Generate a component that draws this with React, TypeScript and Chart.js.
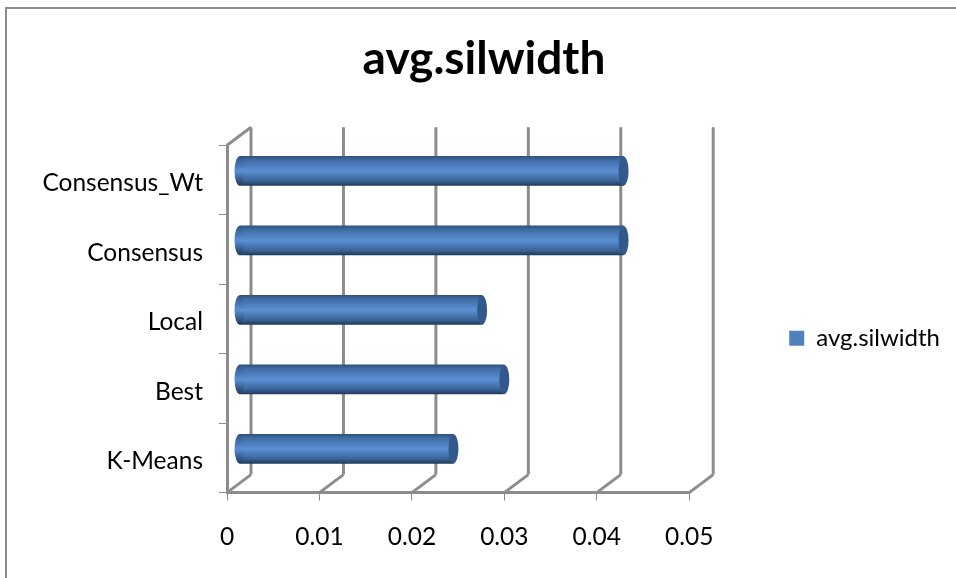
import React, { useEffect, useRef } from "react";
import { Chart, registerables } from "chart.js";

Chart.register(...registerables);

const categories = ["Consensus_Wt", "Consensus", "Local", "Best", "K-Means"];
const silwidth = [0.0416, 0.0416, 0.0263, 0.0287, 0.0232];
const seriesName = "avg.silwidth";
const xTicks = [0, 0.01, 0.02, 0.03, 0.04, 0.05];

const FONT = "Lato, 'Open Sans', sans-serif";
const GREY = "#8c8c8c";
// Depth of the 3D box: the back wall sits this far from the front plane.
const DEPTH_X = 24;
const DEPTH_Y = -18;
const CAP_RX = 5;
const BAR_THICKNESS = 29;
const PAD_LEFT = 18;

const line = (c: CanvasRenderingContext2D, x1: number, y1: number, x2: number, y2: number) => {
  c.beginPath();
  c.moveTo(x1, y1);
  c.lineTo(x2, y2);
  c.stroke();
};

// Chart frame, floor and back wall of the 3D box, all taken from the scales.
const boxPlugin = {
  id: "box3d",
  beforeDatasetsDraw(chart: any) {
    const c = chart.ctx as CanvasRenderingContext2D;
    const { x } = chart.scales;
    const { top, bottom, left } = chart.chartArea;
    c.save();
    c.strokeStyle = GREY;
    c.lineWidth = 2;
    c.beginPath();
    c.moveTo(6, chart.height);
    c.lineTo(6, 8);
    c.lineTo(chart.width, 8);
    c.stroke();
    c.lineWidth = 3;
    xTicks.forEach((v) => {
      const px = x.getPixelForValue(v);
      line(c, px, bottom, px + DEPTH_X, bottom + DEPTH_Y);
      line(c, px + DEPTH_X, bottom + DEPTH_Y, px + DEPTH_X, top + DEPTH_Y);
    });
    line(c, left, top, left + DEPTH_X, top + DEPTH_Y);
    c.restore();
  },
};

// Bars are shifted to the middle of the box depth; the ellipses turn them into cylinders.
const cylinderPlugin = {
  id: "cylinders",
  beforeDatasetDraw(chart: any) {
    chart.ctx.save();
    chart.ctx.translate(DEPTH_X / 2, DEPTH_Y / 2);
  },
  afterDatasetDraw(chart: any, args: any) {
    const c = chart.ctx as CanvasRenderingContext2D;
    args.meta.data.forEach((bar: any) => {
      const ry = BAR_THICKNESS / 2;
      const g = c.createLinearGradient(0, bar.y - ry, 0, bar.y + ry);
      g.addColorStop(0, "#2f527f");
      g.addColorStop(0.5, "#5b8fd4");
      g.addColorStop(1, "#203a5c");
      c.fillStyle = g;
      c.beginPath();
      c.ellipse(bar.base, bar.y, CAP_RX, ry, 0, 0, Math.PI * 2);
      c.fill();
      c.fillStyle = "#33598c";
      c.beginPath();
      c.ellipse(bar.x, bar.y, CAP_RX, ry, 0, 0, Math.PI * 2);
      c.fill();
    });
    c.restore();
  },
};

export default function App() {
  const ref = useRef<HTMLCanvasElement>(null);

  useEffect(() => {
    document.body.style.margin = "0";
    const chart = new Chart(ref.current!, {
      type: "bar",
      data: {
        labels: categories,
        datasets: [
          {
            label: seriesName,
            data: silwidth,
            barThickness: BAR_THICKNESS,
            borderWidth: 0,
            backgroundColor: (ctx: any) => {
              const { chart: ch, dataIndex } = ctx;
              if (dataIndex === undefined || !ch.chartArea) return "#4f81bd";
              const cy = ch.scales.y.getPixelForValue(dataIndex);
              const g = ch.ctx.createLinearGradient(0, cy - BAR_THICKNESS / 2, 0, cy + BAR_THICKNESS / 2);
              g.addColorStop(0, "#2f527f");
              g.addColorStop(0.12, "#3f6ba3");
              g.addColorStop(0.5, "#5b8fd4");
              g.addColorStop(0.85, "#3a6396");
              g.addColorStop(1, "#203a5c");
              return g;
            },
          },
        ],
      },
      plugins: [boxPlugin, cylinderPlugin],
      options: {
        indexAxis: "y",
        animation: false,
        responsive: false,
        layout: { padding: { left: PAD_LEFT, right: 6, top: 0, bottom: 4 } },
        plugins: {
          title: {
            display: true,
            text: seriesName,
            color: "#000",
            font: { family: FONT, size: 46, weight: "bold" },
            padding: { top: 32, bottom: 58 },
          },
          legend: {
            position: "right",
            maxWidth: 400,
            title: { display: true, text: " ", padding: { top: 88, bottom: 0 } },
            labels: {
              color: "#000",
              font: { family: FONT, size: 24 },
              boxWidth: 15,
              boxHeight: 15,
              padding: 100,
              generateLabels: () => [
                {
                  text: seriesName,
                  fillStyle: "#4f81bd",
                  strokeStyle: "#4f81bd",
                  lineWidth: 0,
                  fontColor: "#000",
                },
              ],
            },
          },
          tooltip: { enabled: false },
        },
        scales: {
          x: {
            type: "linear",
            min: 0,
            max: 0.05,
            afterBuildTicks: (s: any) => {
              s.ticks = xTicks.map((value) => ({ value }));
            },
            ticks: {
              color: "#000",
              font: { family: FONT, size: 24.5 },
              padding: 22,
              maxRotation: 0,
              callback: (v: any) => String(v),
            },
            grid: { drawOnChartArea: false, color: GREY, tickLength: 8, lineWidth: 1 },
            border: { color: GREY, width: 3 },
          },
          y: {
            type: "category",
            afterFit: (s: any) => {
              s.width = 227 - PAD_LEFT;
            },
            ticks: { color: "#000", font: { family: FONT, size: 24.5 }, padding: 16, labelOffset: 3.5 },
            grid: { drawOnChartArea: false, color: GREY, tickLength: 8, lineWidth: 1 },
            border: { color: GREY, width: 3 },
          },
        },
      },
    } as any);
    return () => chart.destroy();
  }, []);

  return <canvas ref={ref} width={956} height={578} style={{ display: "block" }} />;
}
